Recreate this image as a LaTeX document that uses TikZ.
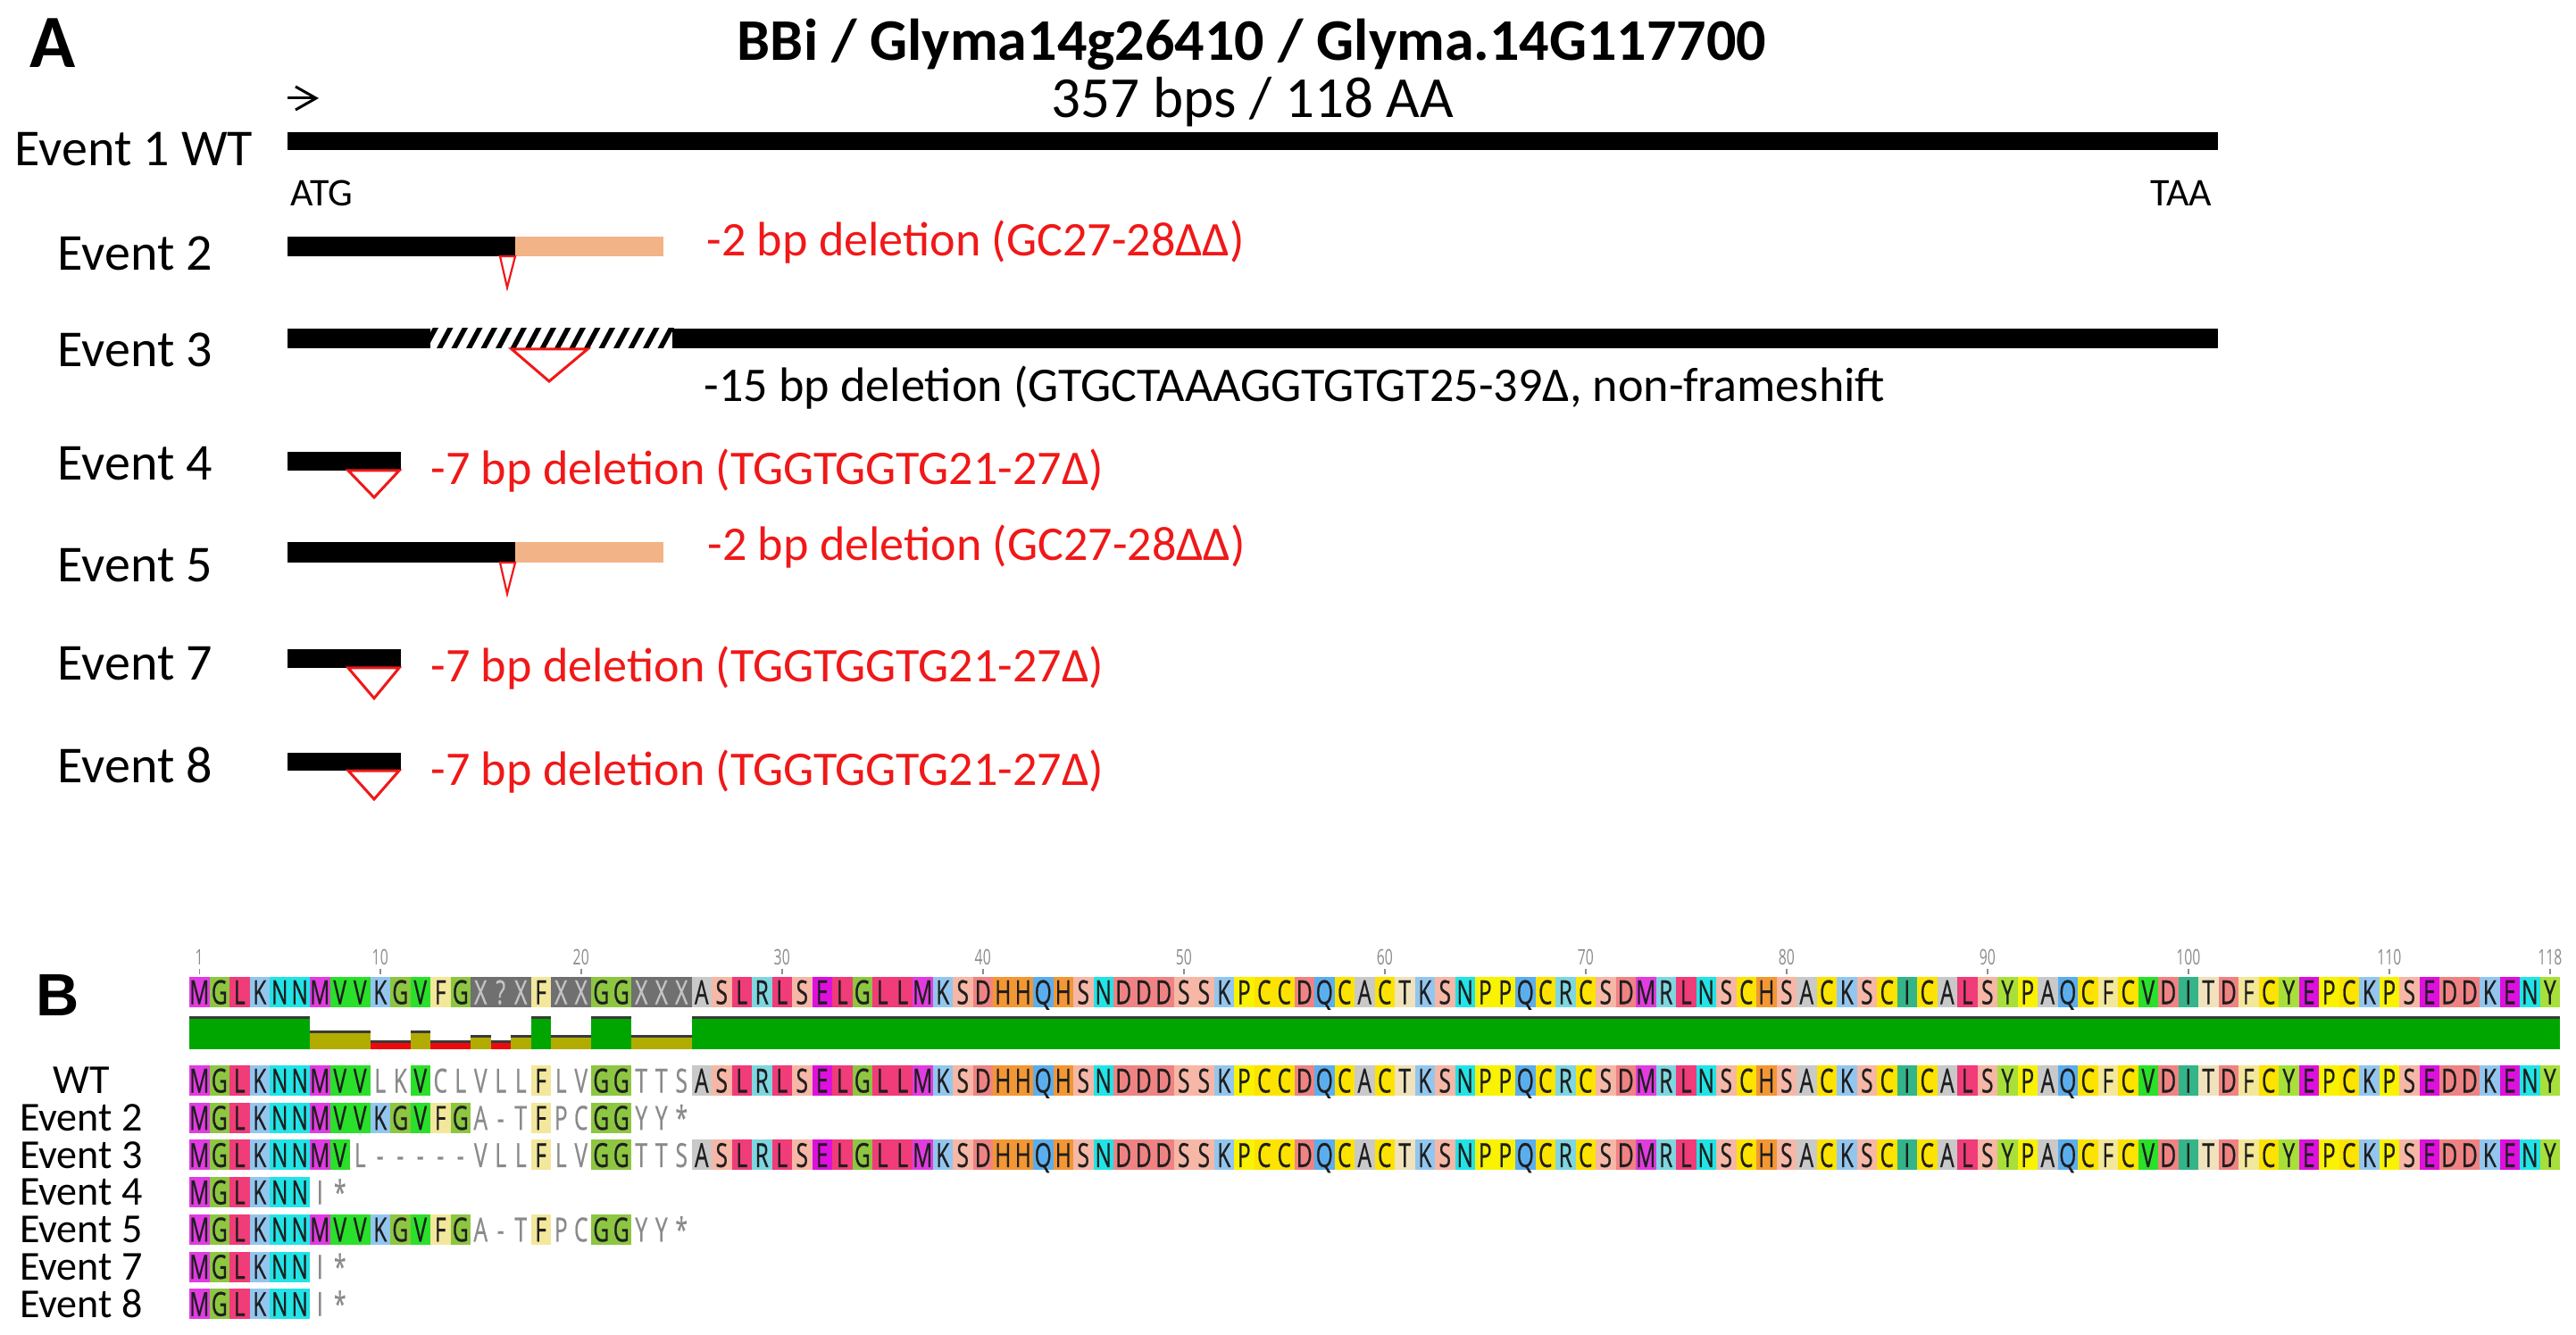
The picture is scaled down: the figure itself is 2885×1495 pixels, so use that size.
\documentclass[tikz,border=0pt]{standalone}
\usepackage{fontspec}
\usetikzlibrary{arrows.meta}
\setmainfont{Carlito}
\newfontfamily\resfont[FakeStretch=0.66,FakeBold=0.5]{Open Sans}
\newfontfamily\rulerfont[FakeStretch=0.66]{Open Sans}
\newfontfamily\arialfont{Liberation Sans}

\definecolor{delred}{HTML}{F01818}
\definecolor{peach}{HTML}{F2B487}
\definecolor{resdark}{HTML}{1E1E1E}
\definecolor{resgray}{HTML}{8A8A8A}
\definecolor{xtext}{HTML}{C4C4C4}
\definecolor{rulergray}{HTML}{8C8C8C}
\definecolor{idgreen}{HTML}{00A600}
\definecolor{idolive}{HTML}{B2AC00}
\definecolor{idred}{HTML}{EE0A0A}
\definecolor{idline}{HTML}{3A3A3A}
% residue colours
\definecolor{cM}{HTML}{E03CE0}
\definecolor{cE}{HTML}{DD10DD}
\definecolor{cG}{HTML}{8DC641}
\definecolor{cL}{HTML}{F03C78}
\definecolor{cK}{HTML}{93C6EE}
\definecolor{cN}{HTML}{22E3E6}
\definecolor{cV}{HTML}{2AE02A}
\definecolor{cF}{HTML}{F3E79C}
\definecolor{cX}{HTML}{707070}
\definecolor{cA}{HTML}{C9C9C9}
\definecolor{cS}{HTML}{F6B7A6}
\definecolor{cR}{HTML}{7ED6E1}
\definecolor{cD}{HTML}{EF8383}
\definecolor{cH}{HTML}{F29733}
\definecolor{cQ}{HTML}{5BAEEE}
\definecolor{cP}{HTML}{F9F200}
\definecolor{cC}{HTML}{FDE300}
\definecolor{cT}{HTML}{EFE2BC}
\definecolor{cI}{HTML}{33B589}
\definecolor{cY}{HTML}{A7E03A}

\def\defres#1#2#3{\expandafter\def\csname bgname@#1\endcsname{#2}\expandafter\def\csname fgname@#1\endcsname{#3}}
\defres M{cM}{resdark}
\defres E{cE}{resdark}
\defres G{cG}{resdark}
\defres L{cL}{resdark}
\defres K{cK}{resdark}
\defres N{cN}{resdark}
\defres V{cV}{resdark}
\defres F{cF}{resdark}
\defres X{cX}{xtext}
\defres ?{cX}{xtext}
\defres A{cA}{resdark}
\defres S{cS}{resdark}
\defres R{cR}{resdark}
\defres D{cD}{resdark}
\defres H{cH}{resdark}
\defres Q{cQ}{resdark}
\defres P{cP}{resdark}
\defres C{cC}{resdark}
\defres T{cT}{resdark}
\defres I{cI}{resdark}
\defres Y{cY}{resdark}

\newcount\colidx
\def\tailseq{SLRLSELGLLMKSDHHQHSNDDDSSKPCCDQCACTKSNPPQCRCSDMRLNSCHSACKSCICALSYPAQCFCVDITDFCYEPCKPSEDDKENY}
\def\seqrow#1#2#3{\colidx=0 \def\rowid{#1}\def\rowy{#2}\edef\tmpseq{#3}\expandafter\doseq\tmpseq\relax}
\def\doseq#1{\ifx#1\relax\else\advance\colidx by 1 \drawcell{#1}\expandafter\doseq\fi}
\def\drawcell#1{%
  \pgfmathsetmacro\xl{212+(\the\colidx-1)*22.5}%
  \pgfmathsetmacro\xr{\xl+22.9}%
  \pgfmathsetmacro\xc{\xl+11.25}%
  \ifcsname bgname@#1\endcsname
    \edef\thebg{\csname bgname@#1\endcsname}%
    \edef\thefg{\csname fgname@#1\endcsname}%
    \fill[fill=\thebg] (\xl,\rowy-17) rectangle (\xr,\rowy+17);
    \node[res,text=\thefg] (\rowid-\the\colidx) at (\xc,\rowy+13.5) {#1};
  \else
    \uppercase{\def\uc{#1}}%
    \node[res,text=resgray] (\rowid-\the\colidx) at (\xc,\rowy+13.5) {\uc};
  \fi}

\tikzset{
  lbl/.style={font=\fontsize{16.5}{19}\selectfont, anchor=base west, inner sep=0pt},
  del/.style={font=\fontsize{15.4}{18}\selectfont, anchor=base west, inner sep=0pt, text=delred},
  delblack/.style={font=\fontsize{15.4}{18}\selectfont, anchor=base west, inner sep=0pt},
  titlefont/.style={font=\bfseries\fontsize{18.8}{22}\selectfont, anchor=base, inner sep=0pt},
  subfont/.style={font=\fontsize{18.5}{22}\selectfont, anchor=base, inner sep=0pt},
  smalltxt/.style={font=\fontsize{12.5}{15}\selectfont, anchor=base west, inner sep=0pt},
  panelA/.style={font=\bfseries\fontsize{24}{28}\selectfont, anchor=base west, inner sep=0pt},
  panelB/.style={font=\arialfont\bfseries\fontsize{19}{22}\selectfont, anchor=base west, inner sep=0pt},
  startarrow/.style={line width=0.3mm, -{Straight Barb[length=2.3mm,width=2.6mm,line width=0.3mm]}},
  blbl/.style={font=\fontsize{13.1}{15}\selectfont, anchor=base, inner sep=0pt},
  res/.style={font=\resfont\fontsize{10.6}{13}\selectfont, anchor=base, inner sep=0pt},
  rnum/.style={font=\rulerfont\fontsize{6.8}{8}\selectfont, text=rulergray, anchor=base, inner sep=0pt},
  tri/.style={draw=delred, fill=white, line width=0.3mm, line join=miter},
  thintri/.style={draw=delred, fill=white, line width=0.22mm, line join=miter},
  genebar/.style={fill=black},
  frameshift/.style={fill=peach},
}

\begin{document}
\begin{tikzpicture}[x=0.1mm,y=-0.1mm]
\useasboundingbox (0,0) rectangle (2885,1495);
\fill[white] (0,0) rectangle (2885,1495);

% ---------------- Panel A ----------------
\node[panelA] (pA) at (33,76) {A};
\node[titlefont] (ttl) at (1402,68) {BBi / Glyma14g26410 / Glyma.14G117700};
\node[subfont] (len) at (1403,132) {357 bps / 118 AA};
\coordinate (arrS) at (322,110);
\coordinate (arrE) at (357,110);
\draw[startarrow] (arrS) -- (arrE);

% Event 1 WT
\node[lbl] (e1) at (16,186) {Event 1 WT};
\fill[genebar] (322,148) rectangle (2484,168);
\node[smalltxt] (atg) at (325,231) {ATG};
\node[smalltxt,anchor=base east] (taa) at (2478,231) {TAA};

% Event 2
\node[lbl] (e2) at (64,303) {Event 2};
\fill[genebar] (322,265) rectangle (577,287);
\fill[frameshift] (577,265) rectangle (743,287);
\draw[thintri] (560,287) -- (577,287) -- (568,322) -- cycle;
\node[del] (d2) at (791,287) {-2 bp deletion (GC27-28ΔΔ)};

% Event 3
\node[lbl] (e3) at (64,411) {Event 3};
\fill[genebar] (322,368) rectangle (482,390);
\fill[genebar] (753,368) rectangle (2484,390);
\begin{scope}
  \clip (480,368) rectangle (755,390);
  \foreach \k in {0,...,17}{
    \draw[line width=0.55mm] ({474+\k*16.5},393) -- ({489+\k*16.5},365);
  }
\end{scope}
\draw[tri] (573,391) -- (658,391) -- (615,427) -- cycle;
\node[delblack] (d3) at (788,450) {-15 bp deletion (GTGCTAAAGGTGTGT25-39Δ, non-frameshift};

% Event 4
\node[lbl] (e4) at (64,538) {Event 4};
\fill[genebar] (322,506) rectangle (449,527);
\draw[tri] (390,527) -- (447,527) -- (419,557) -- cycle;
\node[del] (d4) at (482,543) {-7 bp deletion (TGGTGGTG21-27Δ)};

% Event 5
\node[lbl] (e5) at (64,652) {Event 5};
\fill[genebar] (322,607) rectangle (577,630);
\fill[frameshift] (577,607) rectangle (743,630);
\draw[thintri] (560,630) -- (577,630) -- (568,665) -- cycle;
\node[del] (d5) at (792,628) {-2 bp deletion (GC27-28ΔΔ)};

% Event 7
\node[lbl] (e7) at (64,761) {Event 7};
\fill[genebar] (322,727) rectangle (449,748);
\draw[tri] (390,748) -- (447,748) -- (419,782) -- cycle;
\node[del] (d7) at (482,763) {-7 bp deletion (TGGTGGTG21-27Δ)};

% Event 8
\node[lbl] (e8) at (64,876) {Event 8};
\fill[genebar] (322,843) rectangle (449,863);
\draw[tri] (390,863) -- (447,863) -- (419,895) -- cycle;
\node[del] (d8) at (482,879) {-7 bp deletion (TGGTGGTG21-27Δ)};

% ---------------- Panel B ----------------
\node[panelB] (pB) at (40,1137) {B};

% ruler
\foreach \n in {1,10,20,30,40,50,60,70,80,90,100,110,118}{
  \pgfmathsetmacro\rx{212+(\n-0.5)*22.5}
  \node[rnum] (rn\n) at (\rx,1080) {\n};
  \draw[rulergray,line width=0.15mm] (\rx,1085) -- (\rx,1091);
}

% identity bars
\foreach \a/\b/\c/\t in {1/6/idgreen/1139, 7/9/idolive/1155, 10/11/idred/1166, 12/12/idolive/1155,
  13/14/idred/1166, 15/15/idolive/1160, 16/16/idred/1166, 17/17/idolive/1160, 18/18/idgreen/1139,
  19/20/idolive/1160, 21/22/idgreen/1139, 23/25/idolive/1160, 26/118/idgreen/1139}{
  \fill[\c] ({212+(\a-1)*22.5},\t) rectangle ({212+\b*22.5},1175);
  \draw[idline,line width=0.3mm] ({212+(\a-1)*22.5},\t) -- ({212+\b*22.5},\t);
}

% sequences
\seqrow{cons}{1111}{MGLKNNMVVKGVFGX?XFXXGGXXXA\tailseq}
\seqrow{wt}{1210}{MGLKNNMVVlkVclvllFlvGGttsA\tailseq}
\seqrow{evb}{1251.7}{MGLKNNMVVKGVFGa-tFpcGGyy*}
\seqrow{evc}{1293.4}{MGLKNNMVl-----vllFlvGGttsA\tailseq}
\seqrow{evd}{1335.1}{MGLKNNi*}
\seqrow{eve}{1376.8}{MGLKNNMVVKGVFGa-tFpcGGyy*}
\seqrow{evg}{1418.5}{MGLKNNi*}
\seqrow{evh}{1460.2}{MGLKNNi*}

% row labels
\node[blbl] (bwt) at (91,1224.8) {WT};
\node[blbl] (b2) at (91,1266.5) {Event 2};
\node[blbl] (b3) at (91,1308.2) {Event 3};
\node[blbl] (b4) at (91,1349.9) {Event 4};
\node[blbl] (b5) at (91,1391.6) {Event 5};
\node[blbl] (b7) at (91,1433.3) {Event 7};
\node[blbl] (b8) at (91,1475) {Event 8};
\end{tikzpicture}
\end{document}
